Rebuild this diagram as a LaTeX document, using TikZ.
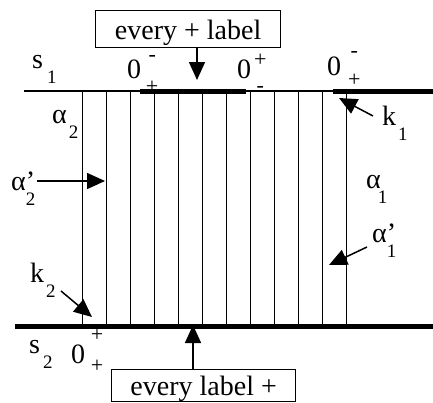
\documentclass[tikz,border=0pt]{standalone}
\usepackage{fontspec}
\setmainfont{Liberation Serif}
\usetikzlibrary{arrows.meta,calc}
\newcommand{\idxfont}{\fontsize{19}{20}\selectfont}
\newcommand{\markfont}{\fontsize{22}{24}\selectfont}
\newcommand{\lowidx}[3][4pt]{#2\hspace{#1}\raisebox{-15pt}{\idxfont #3}}
\newcommand{\primeidx}[2]{#1\rlap{’}\raisebox{-15pt}{\idxfont #2}}
\newcommand{\zlab}[5][6pt]{0\hspace{#1}\rlap{\makebox[12pt]{\raisebox{#4}{\markfont #2}}}\makebox[12pt]{\raisebox{#5}{\markfont #3}}}
\tikzset{
  labelBox/.style={draw, line width=1.3pt, inner sep=0pt, minimum width=185pt, text height=29pt, text depth=8pt},
  thinLine/.style={line width=1.4pt},
  thickLine/.style={line width=5pt},
  markArrow/.style={-{Triangle[length=18pt,width=16pt]}, line width=1.5pt},
  markLabel/.style={anchor=base west, inner sep=0pt}
}

\begin{document}
\begin{tikzpicture}[x=1pt, y=-1pt, font=\fontsize{28}{30}\selectfont]
  \useasboundingbox (0,0) rectangle (433,402);

  % rails and strips
  \draw[thinLine] (24,91) -- (433,91);
  \draw[thickLine] (140,91) -- (246,91);
  \draw[thickLine] (333,91) -- (433,91);
  \draw[thickLine] (15,326.7) -- (433,326.7);
  \foreach \i in {0,...,11}
    \draw[thinLine] (82.7+24*\i,91) -- (82.7+24*\i,326.7);

  % boxes
  \node[labelBox, anchor=south west] (topBox) at (95,48) {every + label};
  \node[labelBox, anchor=north west, minimum width=184pt, text height=26pt, text depth=6pt] (botBox) at (111,369) {every label +};

  \coordinate (topTip) at (197,80);
  \coordinate (botTip) at (193,325);
  \draw[markArrow] (topBox.south -| topTip) -- (topTip);
  \draw[markArrow] (botBox.north -| botTip) -- (botTip);

  % labels
  \node[markLabel] (s1) at (32,68) {\lowidx{s}{1}};
  \node[markLabel] (s2) at (29,353) {\lowidx[3pt]{s}{2}};
  \node[markLabel] (alpha2) at (52,123) {\lowidx[2pt]{α}{2}};
  \node[markLabel] (alpha1) at (366,188) {\lowidx[-3pt]{α}{1}};
  \node[markLabel] (alphaP2) at (11,190) {\primeidx{α}{2}};
  \node[markLabel] (alphaP1) at (372,242) {\primeidx{α}{1}};
  \node[markLabel] (k1) at (382,125) {\lowidx[2pt]{k}{1}};
  \node[markLabel] (k2) at (30,282) {\lowidx[2pt]{k}{2}};

  \node[markLabel] (zeroA) at (127,78) {\zlab[5pt]{-}{+}{17pt}{-15pt}};
  \node[markLabel] (zeroB) at (237,78) {\zlab[3pt]{+}{-}{12pt}{-14pt}};
  \node[markLabel] (zeroC) at (327,75) {\zlab[7pt]{-}{+}{18pt}{-11pt}};
  \node[markLabel] (zeroD) at (71,363) {\zlab[6pt]{+}{+}{22pt}{-9pt}};

  % pointers
  \coordinate (k1From) at (373,116);
  \coordinate (k1Tip) at (339,98);
  \coordinate (k2From) at (61,291);
  \coordinate (k2Tip) at (92,317);
  \coordinate (aP2From) at (37,181);
  \coordinate (aP2Tip) at (105,181);
  \coordinate (aP1From) at (367,247);
  \coordinate (aP1Tip) at (329,265);
  \draw[markArrow] (k1From) -- (k1Tip);
  \draw[markArrow] (k2From) -- (k2Tip);
  \draw[markArrow] (aP2From) -- (aP2Tip);
  \draw[markArrow] (aP1From) -- (aP1Tip);
\end{tikzpicture}
\end{document}
